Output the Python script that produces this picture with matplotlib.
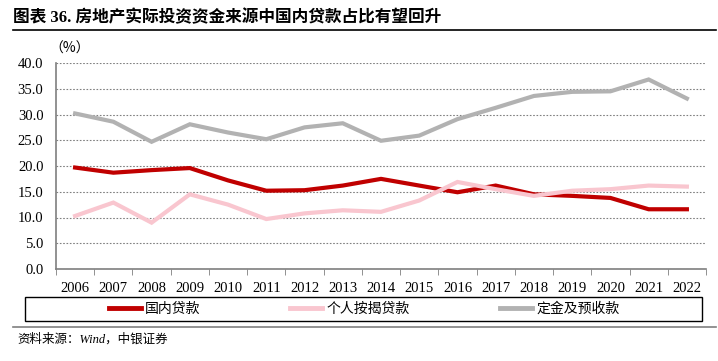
import matplotlib
matplotlib.use('Agg')
import matplotlib.pyplot as plt
from matplotlib.patches import Rectangle
from matplotlib.lines import Line2D
import numpy as np

plt.rcParams['font.family'] = ['Liberation Serif', 'Noto Sans CJK SC', 'DejaVu Sans']

years = ['2006', '2007', '2008', '2009', '2010', '2011', '2012', '2013', '2014',
         '2015', '2016', '2017', '2018', '2019', '2020', '2021', '2022']
domestic_loans = [19.7, 18.7, 19.2, 19.6, 17.2, 15.2, 15.3, 16.2, 17.5,
                  16.2, 14.9, 16.2, 14.5, 14.2, 13.8, 11.6, 11.6]
mortgage_loans = [10.3, 12.9, 9.0, 14.5, 12.5, 9.7, 10.8, 11.4, 11.1,
                  13.3, 16.9, 15.5, 14.2, 15.2, 15.5, 16.2, 16.0]
deposits = [30.2, 28.6, 24.7, 28.1, 26.5, 25.2, 27.5, 28.3, 24.9,
            25.9, 29.1, 31.3, 33.6, 34.4, 34.5, 36.8, 33.1]
series_names = ['国内贷款', '个人按揭贷款', '定金及预收款']
colors = ['#C00000', '#F9C6CF', '#B2B2B2']

W, H = 718, 361
fig = plt.figure(figsize=(W / 100, H / 100), dpi=100)

def fx(px):
    return px / W

def fy(py):
    return 1 - py / H

# title and rules
fig.text(fx(13), fy(18), '图表 36. 房地产实际投资资金来源中国内贷款占比有望回升',
         fontsize=12, fontweight='bold', va='center', ha='left')
fig.add_artist(Line2D([fx(13), fx(716)], [fy(30), fy(30)], color='black', lw=1.2))

ax = fig.add_axes([fx(56), fy(269), fx(706) - fx(56), fy(63) - fy(269)])
x = np.arange(len(years))
for vals, c in zip([domestic_loans, mortgage_loans, deposits], colors):
    ax.plot(x, vals, color=c, lw=3, solid_joinstyle='miter')

ax.set_xlim(-0.5, len(years) - 0.5)
ax.set_ylim(0, 40)
ax.set_yticks(np.arange(0, 41, 5))
ax.set_yticklabels(['%.1f' % v for v in np.arange(0, 41, 5)], fontsize=10.5)
ax.set_xticks(x)
ax.set_xticklabels(years, fontsize=10.5)
ax.set_xticks(np.arange(-0.5, len(years), 1), minor=True)
ax.tick_params(axis='x', which='major', length=0, pad=9)
ax.tick_params(axis='x', which='minor', length=4, color='#7f7f7f', direction='out')
ax.tick_params(axis='y', length=0, pad=9)
ax.yaxis.grid(True, linestyle=(0, (1.5, 1.5)), color='#808080', lw=0.8)
ax.set_axisbelow(True)
for s in ['top', 'right']:
    ax.spines[s].set_visible(False)
for s in ['left', 'bottom']:
    ax.spines[s].set_color('#7f7f7f')
    ax.spines[s].set_linewidth(1.2)

fig.text(fx(70), fy(49), '（%）', fontsize=10, ha='center', va='center',
         family=['Noto Sans CJK SC'])

# legend
fig.add_artist(Rectangle((fx(25), fy(321)), fx(702) - fx(25), fy(297) - fy(321),
                         transform=fig.transFigure, fill=False, ec='black', lw=1))
handles = [Line2D([], [], color=c, lw=3.5) for c in colors]
fig.legend(handles, series_names, loc='center', bbox_to_anchor=(fx(364), fy(309)),
           ncol=3, frameon=False, columnspacing=6.5, handlelength=2.3,
           handletextpad=0.3, prop={'family': 'Noto Sans CJK SC', 'size': 10})

fig.add_artist(Line2D([fx(13), fx(716)], [fy(327), fy(327)], color='#7f7f7f', lw=1.2))
fig.text(fx(17), fy(339), '资料来源：Wind，中银证券', fontsize=9, style='italic',
         va='center', ha='left')

fig.savefig('out.png', dpi=100)
